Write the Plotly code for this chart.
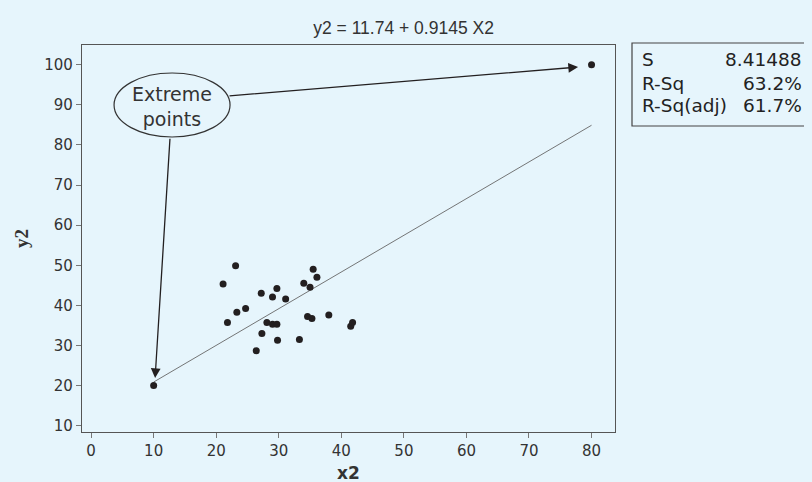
import plotly.graph_objects as go

# ---- data ----
x2 = [10, 80,
      23.1, 21.1, 35.5, 36.1, 34.0, 35.0, 29.7, 27.2, 29.0, 31.1,
      24.7, 23.3, 21.8, 34.6, 35.3, 38.0, 28.1, 29.0, 29.7, 27.3,
      41.5, 41.8, 29.8, 33.3, 26.4]
y2 = [20, 100,
      49.9, 45.3, 49.0, 47.0, 45.5, 44.5, 44.2, 43.0, 42.1, 41.6,
      39.2, 38.3, 35.7, 37.2, 36.7, 37.6, 35.7, 35.3, 35.3, 33.0,
      34.8, 35.7, 31.3, 31.5, 28.7]
intercept = 11.74
slope = 0.9145
fit_x = [10, 80]
fit_y = [intercept + slope * v for v in fit_x]

stat_labels = ["S", "R-Sq", "R-Sq(adj)"]
stat_values = ["8.41488", "63.2%", "61.7%"]

x_ticks = [0, 10, 20, 30, 40, 50, 60, 70, 80]
y_ticks = [10, 20, 30, 40, 50, 60, 70, 80, 90, 100]

BG = "#E6F5FC"
INK = "#231F20"

fig = go.Figure()
fig.add_trace(go.Scatter(x=fit_x, y=fit_y, mode="lines",
                         line=dict(color="#666666", width=0.9), hoverinfo="skip"))
fig.add_trace(go.Scatter(x=x2, y=y2, mode="markers",
                         marker=dict(size=7, color=INK)))

# ellipse callout
fig.add_shape(type="circle", xref="x", yref="y", x0=3.67, x1=22.21, y0=81.97, y1=97.93,
              line=dict(color="#333333", width=1.2), fillcolor=BG, layer="above")
fig.add_annotation(x=12.94, y=89.7, xref="x", yref="y", text="Extreme<br>points",
                   showarrow=False, font=dict(family="DejaVu Sans", size=19, color="#333333"))
# arrows
fig.add_annotation(x=77.85, y=99.42, ax=21.89, ay=92.2, xref="x", yref="y",
                   axref="x", ayref="y", text="", showarrow=True, arrowhead=2,
                   arrowsize=1.5, arrowwidth=1.3, arrowcolor=INK, standoff=0)
fig.add_annotation(x=10.23, y=21.87, ax=12.62, ay=81.9, xref="x", yref="y",
                   axref="x", ayref="y", text="", showarrow=True, arrowhead=2,
                   arrowsize=1.5, arrowwidth=1.3, arrowcolor=INK, standoff=0)

# stats box
fig.add_shape(type="rect", xref="paper", yref="paper", x0=1.0319, x1=1.3846,
              y0=0.7907, y1=1.0052, line=dict(color="#444444", width=1.2))
stat_y = [0.9625, 0.9018, 0.8424]
for lab, val, yy in zip(stat_labels, stat_values, stat_y):
    fig.add_annotation(x=1.0469, y=yy, xref="paper", yref="paper", text=lab,
                       showarrow=False, xanchor="left", yanchor="middle",
                       font=dict(family="DejaVu Sans", size=18.5, color="#222222"))
    fig.add_annotation(x=1.3546, y=yy, xref="paper", yref="paper", text=val,
                       showarrow=False, xanchor="right", yanchor="middle",
                       font=dict(family="DejaVu Sans", size=18.5, color="#222222"))

# x-axis title placed as annotation below tick labels
fig.add_annotation(x=0.5, y=-0.106, xref="paper", yref="paper", text="<b>x2</b>",
                   showarrow=False, xanchor="center", yanchor="middle",
                   font=dict(family="DejaVu Sans", size=17, color="#333333"))

fig.update_layout(
    width=804, height=474,
    margin=dict(l=74, r=197, t=37, b=50),
    paper_bgcolor=BG, plot_bgcolor=BG,
    showlegend=False,
    title=dict(text="y2 = 11.74 + 0.9145 X2", x=0.492, xanchor="center", y=0.958,
               yanchor="middle",
               font=dict(family="Liberation Sans Narrow, Liberation Sans", size=17.5, color="#333333")),
    xaxis=dict(range=[-1.455, 83.75], tickvals=x_ticks, showgrid=False, zeroline=False,
               showline=True, mirror=True, linecolor="#555555", linewidth=1.2,
               ticks="outside", ticklen=5, tickcolor="#777777", automargin=False,
               tickfont=dict(family="DejaVu Sans", size=15, color="#333333")),
    yaxis=dict(range=[8.43, 104.91], tickvals=y_ticks, showgrid=False, zeroline=False,
               showline=True, mirror=True, linecolor="#555555", linewidth=1.2,
               ticks="outside", ticklen=5, tickcolor="#777777",
               tickfont=dict(family="DejaVu Sans", size=15, color="#333333"),
               title=dict(text="<b>y2</b>", standoff=10,
                          font=dict(family="Liberation Serif", size=19, color="#333333"))),
)

fig.write_html("out.html", post_script="document.body.style.background='#E6F5FC';")
